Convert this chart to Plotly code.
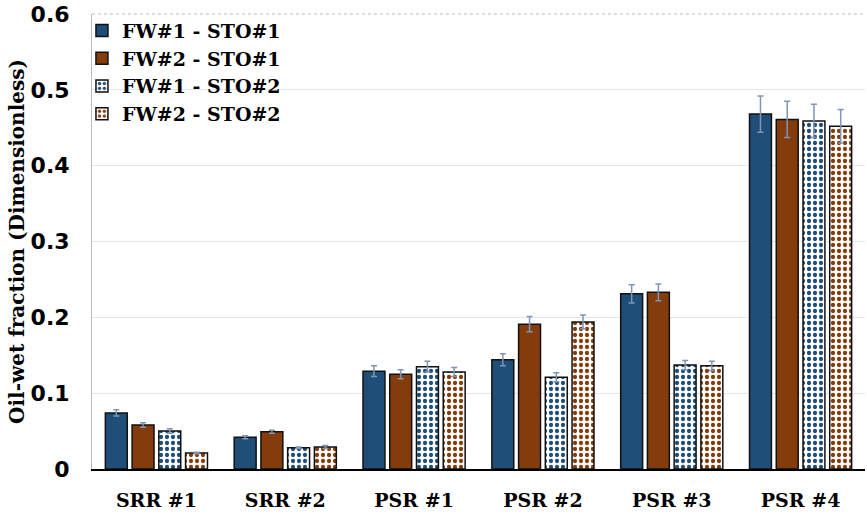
import plotly.graph_objects as go

categories = ["SRR #1", "SRR #2", "PSR #1", "PSR #2", "PSR #3", "PSR #4"]
series_names = ["FW#1 - STO#1", "FW#2 - STO#1", "FW#1 - STO#2", "FW#2 - STO#2"]
fw1_sto1 = [0.074, 0.042, 0.129, 0.144, 0.231, 0.468]
fw2_sto1 = [0.058, 0.049, 0.125, 0.191, 0.233, 0.461]
fw1_sto2 = [0.050, 0.028, 0.135, 0.121, 0.137, 0.459]
fw2_sto2 = [0.021, 0.029, 0.128, 0.194, 0.136, 0.452]
err_fw1_sto1 = [0.004, 0.002, 0.007, 0.008, 0.012, 0.024]
err_fw2_sto1 = [0.003, 0.002, 0.006, 0.010, 0.011, 0.024]
err_fw1_sto2 = [0.003, 0.001, 0.007, 0.006, 0.006, 0.022]
err_fw2_sto2 = [0.001, 0.002, 0.006, 0.009, 0.006, 0.022]
y_ticks = [0, 0.1, 0.2, 0.3, 0.4, 0.5, 0.6]
y_ticktext = ["0", "0.1", "0.2", "0.3", "0.4", "0.5", "0.6"]

BLUE = "#1f4e79"
BROWN = "#843c0c"
ERR = "#7f95b5"
SERIF = "DejaVu Serif"

fig = go.Figure()
values = [fw1_sto1, fw2_sto1, fw1_sto2, fw2_sto2]
errors = [err_fw1_sto1, err_fw2_sto1, err_fw1_sto2, err_fw2_sto2]
colors = [BLUE, BROWN, BLUE, BROWN]
for i, (name, vals, errs, col) in enumerate(zip(series_names, values, errors, colors)):
    if i < 2:
        marker = dict(color=col, line=dict(color="#111111", width=1.5))
    else:
        marker = dict(color="white", line=dict(color="#111111", width=1.5),
                      pattern=dict(shape=".", fgcolor=col, bgcolor="white",
                                   size=6, solidity=0.4, fillmode="replace"))
    fig.add_trace(go.Bar(
        x=categories, y=vals, name=name, marker=marker,
        error_y=dict(type="data", array=errs, visible=True, color=ERR,
                     thickness=1.5, width=3),
    ))

fig.update_layout(
    width=867, height=514,
    margin=dict(l=92, r=2, t=14, b=45),
    barmode="group", bargap=0.17, bargroupgap=0.18,
    plot_bgcolor="white", paper_bgcolor="white",
    font=dict(family=SERIF, color="black"),
    legend=dict(x=-0.013, y=1.005, xanchor="left", yanchor="top",
                bgcolor="rgba(0,0,0,0)",
                font=dict(family=SERIF, size=19, color="black", weight="bold"),
                tracegroupgap=0, itemwidth=30),
    showlegend=True,
)
fig.update_yaxes(
    range=[0, 0.6], tickvals=y_ticks, ticktext=y_ticktext,
    showgrid=True, gridcolor="#e3e6ec", gridwidth=1,
    zeroline=False, automargin=False,
    tickfont=dict(family="DejaVu Sans", size=22, color="black", weight="bold"),
    title=dict(text="Oil-wet fraction (Dimensionless)",
               font=dict(family=SERIF, size=20, color="black", weight="bold"),
               standoff=0),
    ticks="", ticklabelstandoff=17,
    showline=True, linecolor="#bbbbbb", linewidth=1, mirror=False,
)
fig.update_xaxes(
    showline=True, linecolor="black", linewidth=1.5, automargin=False,
    tickfont=dict(family=SERIF, size=19, color="black", weight="bold"),
    ticks="", ticklabelstandoff=13,
)
fig.add_shape(type="line", xref="paper", yref="paper", x0=0, x1=1, y0=1, y1=1,
              line=dict(color="#bbbbbb", width=1, dash="dot"))

fig.write_html("out.html", config={"displayModeBar": False},
               post_script="document.body.style.margin='0';document.body.style.overflow='hidden';")
